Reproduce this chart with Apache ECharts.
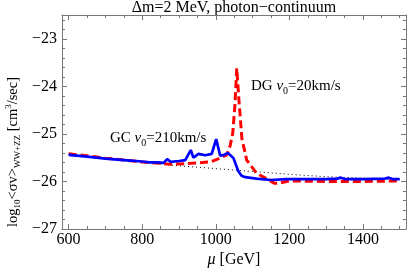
<!DOCTYPE html>
<html><head><meta charset="utf-8">
<script src="https://cdn.jsdelivr.net/npm/echarts@6/dist/echarts.min.js"></script>
<style>html,body{margin:0;padding:0;background:#fff}#c{width:407px;height:274px}</style>
</head><body><div id="c"></div>
<script>
// GC v0=210km/s (blue solid)
const gcMu  = [600,650,700,750,800,820,840,858,868,878,900,917,932,939,953,971,989,1001,1012,1023,1033,1048,1061,1070,1080,1110,1150,1193,1250,1300,1330,1340,1350,1400,1460,1470,1480,1500];
const gcVal = [-25.44,-25.48,-25.52,-25.55,-25.58,-25.60,-25.60,-25.61,-25.53,-25.59,-25.57,-25.55,-25.34,-25.50,-25.42,-25.45,-25.42,-25.11,-25.46,-25.44,-25.40,-25.51,-25.78,-25.88,-25.91,-25.94,-25.97,-25.95,-25.95,-25.95,-25.94,-25.92,-25.95,-25.95,-25.94,-25.92,-25.95,-25.95];
// DG v0=20km/s (red dashed)
const dgMu  = [600,650,700,750,800,850,876,930,985,1012,1030,1039,1046,1052,1057,1063,1071,1084,1111,1135,1160,1175,1200,1300,1400,1500];
const dgVal = [-25.42,-25.46,-25.51,-25.55,-25.59,-25.62,-25.64,-25.62,-25.59,-25.51,-25.44,-25.25,-24.99,-24.40,-23.62,-24.30,-25.10,-25.55,-25.83,-25.93,-26.04,-26.03,-25.99,-26.00,-26.00,-25.99];
// reference (black dotted)
const refMu  = [600,700,800,900,1000,1100,1200,1300,1400,1500];
const refVal = [-25.43,-25.53,-25.60,-25.67,-25.73,-25.79,-25.85,-25.90,-25.93,-25.96];
// ticks
const xMajor = [600,800,1000,1200,1400];
const xMinor = [600,650,700,750,800,850,900,950,1000,1050,1100,1150,1200,1250,1300,1350,1400,1450,1500];
const yMajor = [-27,-26,-25,-24,-23];
const yMinor = [-27,-26.8,-26.6,-26.4,-26.2,-26,-25.8,-25.6,-25.4,-25.2,-25,-24.8,-24.6,-24.4,-24.2,-24,-23.8,-23.6,-23.4,-23.2,-23,-22.8,-22.6];

const F = '"Liberation Serif","DejaVu Serif",serif';
const frame = '#777';
const X0 = 582, X1 = 1517, Y0 = -27, Y1 = -22.5;
const zip = (a,b)=>a.map((v,i)=>[v,b[i]]);

function xa(pos, vals, len, labels, line){
  return {type:'value', position:pos, min:X0, max:X1, splitLine:{show:false},
    axisLine:{show:line, lineStyle:{color:frame, width:1}},
    axisTick:{show:true, inside:true, length:len, customValues:vals, lineStyle:{color:frame}},
    axisLabel:{show:labels, customValues:vals, margin:3, color:'#000', fontFamily:F, fontSize:16,
      formatter:v=>String(v)}};
}
function ya(pos, vals, len, labels, line){
  return {type:'value', position:pos, min:Y0, max:Y1, splitLine:{show:false},
    axisLine:{show:line, lineStyle:{color:frame, width:1}},
    axisTick:{show:true, inside:true, length:len, customValues:vals, lineStyle:{color:frame}},
    axisLabel:{show:labels, customValues:vals, margin:5, color:'#000', fontFamily:F, fontSize:16,
      formatter:v=>'\u2212'+Math.abs(v)}};
}

const chart = echarts.init(document.getElementById('c'), null, {renderer:'canvas'});
const rich13 = {n:{fontFamily:F, fontSize:15, fill:'#000'}, i:{fontFamily:F, fontSize:15, fontStyle:'italic', fill:'#000'}, s:{fontFamily:F, fontSize:10, fill:'#000', padding:[9,0,0,0]}};
chart.setOption({
  animation:false,
  grid:{left:62, right:1, top:15, bottom:45},
  xAxis:[xa('bottom',xMajor,5,true,true), xa('bottom',xMinor,3,false,false),
         xa('top',xMajor,5,false,true), xa('top',xMinor,3,false,false)],
  yAxis:[ya('left',yMajor,5,true,true), ya('left',yMinor,3,false,false),
         ya('right',yMajor,5,false,true), ya('right',yMinor,3,false,false)],
  series:[
    {type:'line', data:zip(refMu,refVal), showSymbol:false, z:1,
      lineStyle:{color:'#000', width:1, type:[1,3]}},
    {type:'line', data:zip(dgMu,dgVal), showSymbol:false, z:2,
      lineStyle:{color:'#ff0000', width:3, type:[8,4]}},
    {type:'line', data:zip(gcMu,gcVal), showSymbol:false, z:3,
      lineStyle:{color:'#0000ff', width:2.7}}
  ],
  graphic:[
    {type:'text', x:234, y:0, style:{align:'center', fontFamily:F, fontSize:16, fill:'#000',
      text:'\u0394m=2 MeV, photon\u2212continuum'}},
    {type:'text', left:110, top:131, style:{rich:rich13, text:'{n|GC }{i|v}{s|0}{n|=210km/s}'}},
    {type:'text', left:251, top:79, style:{rich:rich13, text:'{n|DG }{i|v}{s|0}{n|=20km/s}'}},
    {type:'text', x:4, y:227, rotation:Math.PI/2, style:{
      rich:{n:{fontFamily:F, fontSize:14.5, fill:'#000'}, s:{fontFamily:F, fontSize:9, fill:'#000', padding:[9,0,0,0]}, u:{fontFamily:F, fontSize:9, fill:'#000', padding:[0,0,8,0]}},
      text:'{n|log}{s|10}{n|<\u03c3v>}{s|WW+ZZ}{n| [cm}{u|3}{n|/sec]}'}},
    {type:'text', x:234, y:252, style:{align:'center',
      rich:{n:{fontFamily:F, fontSize:16, fill:'#000'}, i:{fontFamily:F, fontSize:16, fontStyle:'italic', fill:'#000'}},
      text:'{i|\u03bc}{n| [GeV]}'}}
  ]
});
</script></body></html>
